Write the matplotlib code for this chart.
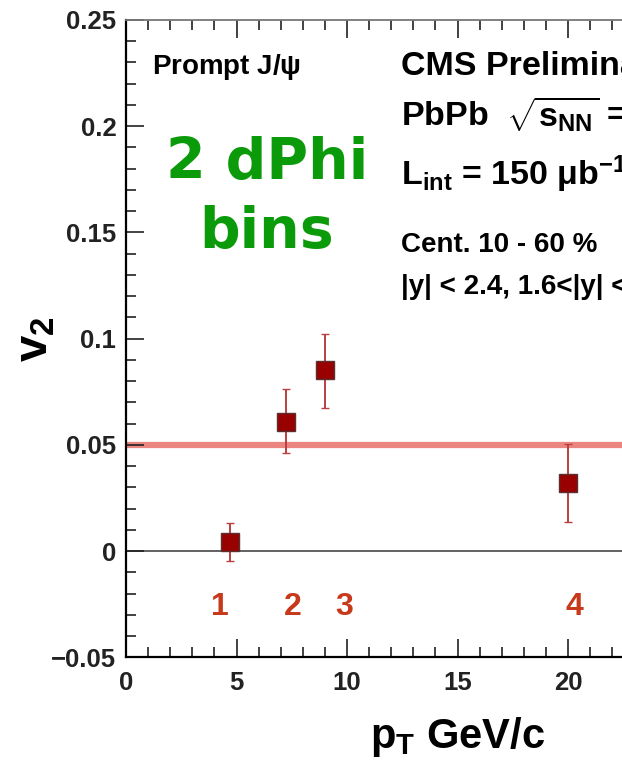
import matplotlib
matplotlib.use('Agg')
import matplotlib.pyplot as plt
from matplotlib.ticker import MultipleLocator, FuncFormatter

plt.rcParams['font.family'] = ['Liberation Sans', 'DejaVu Sans']
plt.rcParams['font.weight'] = 'bold'
plt.rcParams['mathtext.fontset'] = 'custom'
plt.rcParams['mathtext.rm'] = 'Liberation Sans:bold'
plt.rcParams['mathtext.it'] = 'Liberation Sans:bold'
plt.rcParams['mathtext.bf'] = 'Liberation Sans:bold'

# data
pt = [4.7, 7.24, 9.0, 20.0]
v2 = [0.0045, 0.061, 0.0853, 0.032]
err_up = [0.009, 0.0153, 0.0167, 0.0184]
err_dn = [0.0092, 0.015, 0.018, 0.0184]
bin_labels = ['1', '2', '3', '4']
bin_label_x = [4.25, 7.55, 9.86, 20.3]
ref_v2 = 0.05


def fmt_y(v, pos):
    if abs(v) < 1e-9:
        return '0'
    return ('%g' % round(v, 3)).replace('-', '\u2212')


fig = plt.figure(figsize=(6.22, 7.69), dpi=100)
ax = fig.add_axes([0.2026, 0.145, 1.066, 0.829])

# reference level (red band) and zero line
ax.axhline(ref_v2, color='#e8706a', lw=4.5, alpha=0.85, zorder=1)
ax.axhline(0, color='#555555', lw=1.3, zorder=1)

ax.errorbar(pt, v2, yerr=[err_dn, err_up], fmt='s', color='#a01010',
            ecolor='#b84040', elinewidth=1.4, capsize=3, capthick=1.2,
            markersize=12.5, markerfacecolor='#990000', markeredgecolor='#5a3030',
            markeredgewidth=1.0, zorder=3)

for lab, x in zip(bin_labels, bin_label_x):
    ax.text(x, -0.0262, lab, color='#c8381a', fontsize=23, fontweight='bold',
            ha='center', va='center')

ax.set_xlim(0, 30)
ax.set_ylim(-0.05, 0.25)
ax.xaxis.set_major_locator(MultipleLocator(5))
ax.xaxis.set_minor_locator(MultipleLocator(1))
ax.yaxis.set_major_locator(MultipleLocator(0.05))
ax.yaxis.set_minor_locator(MultipleLocator(0.01))
ax.yaxis.set_major_formatter(FuncFormatter(fmt_y))
ax.tick_params(which='both', direction='in', top=True, right=True, width=1.2,
               labelsize=18.5, colors='#222222')
ax.tick_params(which='major', length=13, pad=7)
ax.tick_params(which='minor', length=7)
ax.tick_params(axis='x', which='major', pad=10)
for s in ['left', 'bottom']:
    ax.spines[s].set_linewidth(1.6)
ax.spines['top'].set_color('#777777')
ax.spines['top'].set_linewidth(1.3)

ax.set_ylabel(r'v$_2$', fontsize=34, fontweight='bold')
ax.yaxis.set_label_coords(-0.104, 0.5)
ax.set_xlabel(r'p$_T$ GeV/c', fontsize=30, fontweight='bold')
ax.xaxis.set_label_coords(0.5, -0.09)

ax.text(1.18, 0.2244, r'Prompt J/$\psi$', fontsize=20, fontweight='bold', va='baseline')
ax.text(12.42, 0.2240, 'CMS Preliminary', fontsize=24.5, fontweight='bold', va='baseline')
ax.text(12.42, 0.1994, r'PbPb  $\sqrt{s_{NN}}$ = 2.76 TeV', fontsize=24.5, fontweight='bold', va='baseline')
ax.text(12.42, 0.1722, r'L$_{int}$ = 150 $\mu$b$^{-1}$', fontsize=24.5, fontweight='bold', va='baseline')
ax.text(12.42, 0.1406, 'Cent. 10 - 60 %', fontsize=20, fontweight='bold', va='baseline')
ax.text(12.42, 0.1212, '|y| < 2.4, 1.6<|y| < 2.4', fontsize=20, fontweight='bold', va='baseline')

ax.text(6.38, 0.1663, '2 dPhi\nbins', color='#0a9a0a', fontsize=41, fontweight='bold',
        family='DejaVu Sans', ha='center', va='center', linespacing=1.32)

fig.savefig('out.png', dpi=100)
